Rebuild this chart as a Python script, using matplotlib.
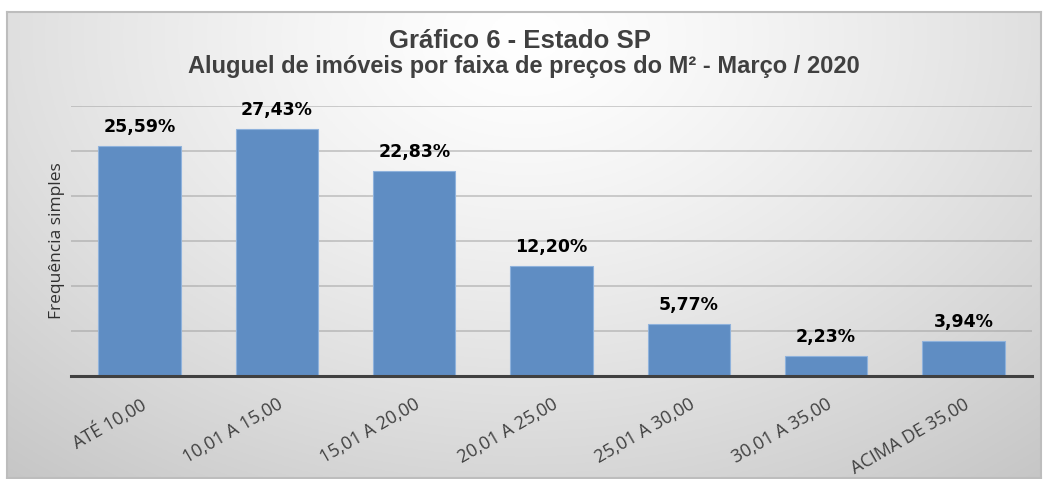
import numpy as np
import matplotlib
matplotlib.use("Agg")
import matplotlib.pyplot as plt

categories = ["ATÉ 10,00", "10,01 A 15,00", "15,01 A 20,00", "20,01 A 25,00",
              "25,01 A 30,00", "30,01 A 35,00", "ACIMA DE 35,00"]
values = [25.59, 27.43, 22.83, 12.20, 5.77, 2.23, 3.94]
value_labels = ["25,59%", "27,43%", "22,83%", "12,20%", "5,77%", "2,23%", "3,94%"]

W, H = 1047, 479
fig = plt.figure(figsize=(W / 100, H / 100), dpi=100)

# gradient background box (radial: white at top center -> gray at corners)
bx0, by0, bx1, by1 = 7, 12, 1041, 478
bg = fig.add_axes([bx0 / W, 1 - by1 / H, (bx1 - bx0) / W, (by1 - by0) / H])
yy, xx = np.mgrid[0:200, 0:400]
cx, cy = 200, 10
d = np.sqrt(((xx - cx) / 330.0) ** 2 + ((yy - cy) / 260.0) ** 2)
d = np.clip(d, 0, 1)
shade = 1.0 - 0.24 * d ** 1.3
img = np.dstack([shade, shade, shade])
bg.imshow(img, aspect="auto", extent=[0, 1, 0, 1], origin="upper")
bg.set_xticks([])
bg.set_yticks([])
for s in bg.spines.values():
    s.set_color("#bdbdbd")
    s.set_linewidth(1.5)

# plot area
px0, px1, py0, py1 = 71, 1032, 106, 376
ax = fig.add_axes([px0 / W, 1 - py1 / H, (px1 - px0) / W, (py1 - py0) / H])
ax.patch.set_alpha(0)
x = np.arange(len(categories))
ax.set_xlim(-0.5, len(categories) - 0.5)
ax.set_ylim(0, 30)
for g in [5, 10, 15, 20, 25, 30]:
    ax.axhline(g, color="#9a9a9a", linewidth=1.2, alpha=0.55, zorder=1)
ax.bar(x, values, width=0.6, color="#5f8dc3", edgecolor="#8fb2dc",
       linewidth=0.8, zorder=2)
for xi, v, lab in zip(x, values, value_labels):
    ax.text(xi, v + 1.1, lab, ha="center", va="bottom", fontsize=12.5,
            fontweight="bold", color="black", family="DejaVu Sans")
for s in ["top", "right", "left"]:
    ax.spines[s].set_visible(False)
ax.spines["bottom"].set_color("#404040")
ax.spines["bottom"].set_linewidth(2.2)
ax.spines["bottom"].set_zorder(3)
ax.set_yticks([])
ax.set_xticks(x)
ax.set_xticklabels(categories, rotation=30, ha="right", rotation_mode="anchor",
                   fontsize=13, color="#404040", family="Open Sans")
ax.tick_params(axis="x", length=0, pad=14)
ax.set_ylabel("Frequência simples", fontsize=12.5, color="#303030",
              family="Open Sans", labelpad=4)

fig.text(520 / W, 1 - 41 / H, "Gráfico 6 - Estado SP", ha="center", va="center",
         fontsize=18.5, fontweight="bold", color="#404040", family="Liberation Sans")
fig.text(524 / W, 1 - 67 / H,
         "Aluguel de imóveis por faixa de preços do M² - Março / 2020",
         ha="center", va="center", fontsize=17, fontweight="bold",
         color="#404040", family="Liberation Sans")

fig.savefig("out.png", dpi=100, facecolor="white")
